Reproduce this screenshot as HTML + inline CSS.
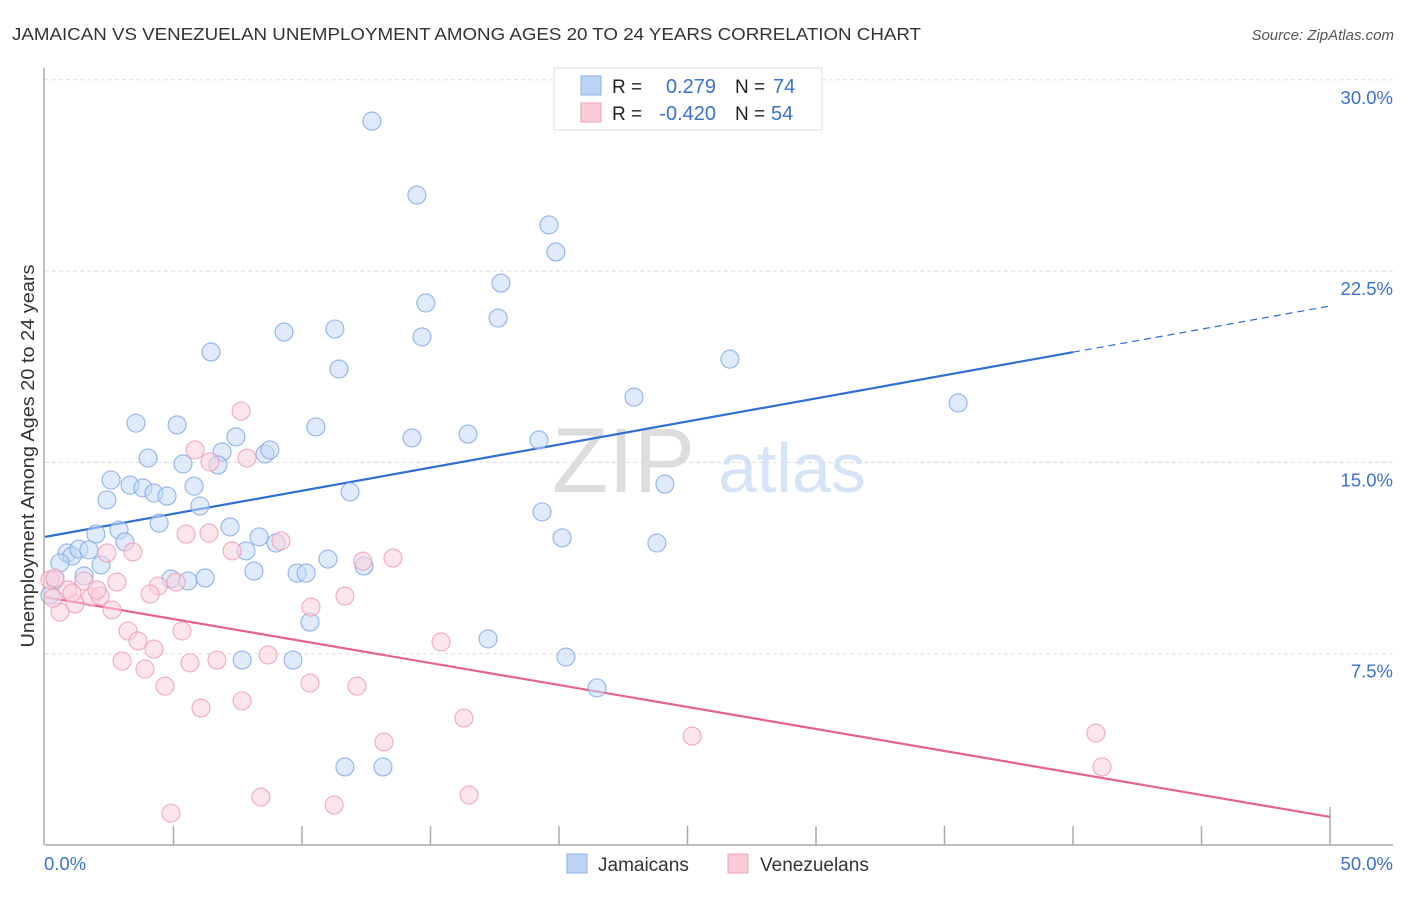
<!DOCTYPE html>
<html><head><meta charset="utf-8"><style>
body{margin:0;background:#fff;font-family:"Liberation Sans",sans-serif;}
svg text{font-family:"Liberation Sans",sans-serif;}
</style></head><body>
<svg id="chart" width="1406" height="892" viewBox="0 0 1406 892">
<text x="12" y="40" font-size="17.5" fill="#333" textLength="909" lengthAdjust="spacingAndGlyphs">JAMAICAN VS VENEZUELAN UNEMPLOYMENT AMONG AGES 20 TO 24 YEARS CORRELATION CHART</text>
<text x="1394" y="40" font-size="15" fill="#555" font-style="italic" text-anchor="end">Source: ZipAtlas.com</text>
<text x="0" y="0" transform="translate(34,456) rotate(-90)" font-size="18" fill="#333" text-anchor="middle" textLength="383" lengthAdjust="spacingAndGlyphs">Unemployment Among Ages 20 to 24 years</text>
<g><text x="552" y="492" font-size="92" fill="#ddd" font-family="Liberation Serif">ZIP</text><text x="718" y="492" font-size="70" fill="#d6e4f7">atlas</text></g>
<g id="grid"></g><g id="axes"></g><g id="trends"></g><g id="points"></g>
<g>
<rect x="554" y="68" width="268" height="62" fill="#fff" stroke="#ddd"/>
<rect x="581" y="76" width="20" height="19" fill="#bcd4f5" stroke="#8ab0e8"/>
<rect x="581" y="103" width="20" height="19" fill="#fbcbd8" stroke="#f0a0b8"/>
<text x="612" y="93" font-size="19" fill="#222">R =</text><text x="716" y="93" font-size="20" fill="#3a72d0" text-anchor="end">0.279</text>
<text x="735" y="93" font-size="19" fill="#222">N =</text><text x="773" y="93" font-size="20" fill="#3a72d0">74</text>
<text x="612" y="120" font-size="19" fill="#222">R =</text><text x="716" y="120" font-size="20" fill="#3a72d0" text-anchor="end">-0.420</text>
<text x="735" y="120" font-size="19" fill="#222">N =</text><text x="771" y="120" font-size="20" fill="#3a72d0">54</text>
</g>
<g>
<rect x="567" y="854" width="20" height="19" fill="#bcd4f5" stroke="#8ab0e8"/>
<text x="598" y="871" font-size="19" fill="#333">Jamaicans</text>
<rect x="728" y="854" width="20" height="19" fill="#fbcbd8" stroke="#f0a0b8"/>
<text x="760" y="871" font-size="19" fill="#333">Venezuelans</text>
</g>
</svg>
<script>
const yTicks=[7.5,15,22.5,30];
const yTickLabels=["7.5%","15.0%","22.5%","30.0%"];
const xTicks=[0,5,10,15,20,25,30,35,40,45,50];
const blueX=[12.72,14.47,19.61,19.88,17.74,14.82,17.63,9.30,11.28,14.67,6.46,26.65,11.44,22.92,35.53,3.54,5.14,10.54,7.43,14.28,16.46,19.22,6.89,8.56,8.75,4.01,5.37,6.73,2.57,3.31,3.81,4.24,4.75,5.80,11.87,24.12,2.41,6.03,19.34,4.44,7.20,2.88,1.98,8.33,8.99,20.12,23.81,3.11,0.86,1.05,1.32,1.71,7.82,11.01,0.58,2.18,12.41,8.13,9.81,10.16,1.52,4.90,5.56,6.23,0.39,0.19,10.31,17.24,7.67,9.65,20.27,21.48,11.67,13.15];
const blueY=[28.38,25.48,24.31,23.25,22.03,21.25,20.66,20.11,20.23,19.92,19.33,19.05,18.66,17.56,17.33,16.54,16.47,16.39,16.00,15.96,16.11,15.88,15.41,15.33,15.49,15.17,14.94,14.90,14.31,14.11,14.00,13.80,13.68,14.07,13.84,14.15,13.53,13.29,13.06,12.62,12.47,12.35,12.19,12.08,11.84,12.04,11.84,11.88,11.45,11.33,11.60,11.57,11.53,11.21,11.06,10.98,10.94,10.74,10.66,10.66,10.55,10.43,10.35,10.47,10.39,9.80,8.74,8.08,7.25,7.25,7.37,6.16,3.06,3.06];
const pinkX=[7.63,5.84,6.42,7.86,5.49,6.38,9.18,7.28,3.42,2.41,12.37,13.54,0.19,0.39,1.52,2.80,4.40,5.10,4.09,0.89,1.79,2.14,1.17,2.61,0.58,10.35,11.67,3.23,5.33,3.62,4.24,15.41,3.00,3.89,5.64,6.69,8.68,4.67,10.31,12.14,7.67,6.07,16.30,25.18,40.89,13.19,8.40,11.25,16.50,4.90,41.13,0.31,1.05,2.02];
const pinkY=[17.01,15.49,15.02,15.17,12.19,12.23,11.92,11.53,11.49,11.45,11.13,11.25,10.39,10.47,10.35,10.31,10.15,10.31,9.84,10.00,9.72,9.76,9.45,9.21,9.13,9.33,9.76,8.39,8.39,8.00,7.68,7.96,7.21,6.90,7.14,7.25,7.45,6.23,6.35,6.23,5.65,5.37,4.98,4.27,4.39,4.04,1.88,1.57,1.96,1.25,3.06,9.68,9.88,10.00];
const blueTrend=[12.08,21.13];
const pinkTrend=[9.72,1.10];
const NS="http://www.w3.org/2000/svg";
const X=v=>45+v*25.7, Y=v=>845-v*25.507;
function mk(tag,attrs,parent){const e=document.createElementNS(NS,tag);for(const k in attrs)e.setAttribute(k,attrs[k]);parent.appendChild(e);return e;}
const grid=document.getElementById('grid'),axes=document.getElementById('axes'),tr=document.getElementById('trends'),pts=document.getElementById('points');
yTicks.forEach((t,i)=>{const l=mk('line',{x1:45,x2:1393,y1:Y(t),y2:Y(t),stroke:'#ddd','stroke-dasharray':'4,3'},grid);


const tx=mk('text',{x:1393,y:Y(t)+24,'font-size':18.5,fill:'#3a72d0','text-anchor':'end'},grid);tx.textContent=yTickLabels[i];

});
const ax=mk('line',{x1:45,x2:1393,y1:845,y2:845,stroke:'#aaa','stroke-width':1.5},axes);


const ay=mk('line',{x1:44,x2:44,y1:68,y2:845,stroke:'#aaa','stroke-width':1.5},axes);


xTicks.forEach(t=>{if(t===0)return;const tk=mk('line',{x1:X(t),x2:X(t),y1:t===50?807:826,y2:845,stroke:'#aaa','stroke-width':1.5},axes);

});
const x0=mk('text',{x:44,y:870,'font-size':18.5,fill:'#3a72d0'},axes);x0.textContent='0.0%';


const x1=mk('text',{x:1393,y:870,'font-size':18.5,fill:'#3a72d0','text-anchor':'end'},axes);x1.textContent='50.0%';


function drawPts(xs,ys,fill,stroke,name){xs.forEach((v,i)=>{const c=mk('circle',{cx:X(v),cy:Y(ys[i]),r:9,fill:fill,'fill-opacity':0.55,stroke:stroke,'stroke-opacity':0.85,'stroke-width':1.1},pts);

});}
drawPts(blueX,blueY,'#c5d9f5','#7fa8e6','jamaican-point');
drawPts(pinkX,pinkY,'#fbd0dc','#ee9cb5','venezuelan-point');
const bAt=x=>blueTrend[0]+(blueTrend[1]-blueTrend[0])*x/50;
const b1=mk('line',{x1:X(0),y1:Y(bAt(0)),x2:X(40),y2:Y(bAt(40)),stroke:'#2f6fd6','stroke-width':2.2},tr);


const b2=mk('line',{x1:X(40),y1:Y(bAt(40)),x2:X(50),y2:Y(bAt(50)),stroke:'#2f6fd6','stroke-width':1.2,'stroke-dasharray':'7,5'},tr);


const p1=mk('line',{x1:X(0),y1:Y(pinkTrend[0]),x2:X(50),y2:Y(pinkTrend[1]),stroke:'#e8628f','stroke-width':2.2},tr);


</script>
</body></html>
